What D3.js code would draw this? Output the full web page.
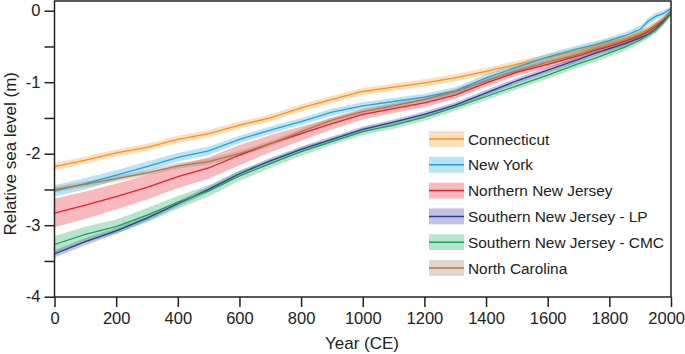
<!DOCTYPE html>
<html lang="en">
<head>
  <meta charset="UTF-8">
  <title>Relative sea level, 0–2000 CE</title>
  <script src="https://d3js.org/d3.v7.min.js"></script>
  <style>
    body { margin: 0; background: #fff; }
    svg { display: block; font-family: Arial, "Liberation Sans", sans-serif; }
  </style>
</head>
<body>
<svg width="685" height="354"></svg>
<script>
  // sample years shared by all series
  const years = [0, 100, 200, 300, 400, 500, 600, 700, 800, 900, 1000, 1100, 1200,
                 1300, 1400, 1500, 1600, 1700, 1750, 1800, 1850, 1900, 1925, 1950, 1975, 2000];

  const seriesNames = ["Connecticut", "New York", "Northern New Jersey",
                       "Southern New Jersey - LP", "Southern New Jersey - CMC", "North Carolina"];

  // relative sea level (m)
  const connecticut = [-2.18, -2.09, -1.99, -1.91, -1.80, -1.72, -1.60, -1.50, -1.36, -1.24, -1.13, -1.07, -1.01,
                       -0.94, -0.85, -0.75, -0.66, -0.56, -0.50, -0.44, -0.39, -0.31, -0.26, -0.20, -0.12, -0.02];
  const newYork     = [-2.52, -2.42, -2.30, -2.18, -2.05, -1.96, -1.80, -1.67, -1.55, -1.42, -1.33, -1.27, -1.21,
                       -1.12, -0.94, -0.79, -0.65, -0.53, -0.48, -0.42, -0.35, -0.26, -0.15, -0.08, -0.04, 0.03];
  const northernNJ  = [-2.83, -2.72, -2.60, -2.47, -2.32, -2.20, -2.02, -1.86, -1.72, -1.58, -1.45, -1.37, -1.29,
                       -1.18, -1.01, -0.86, -0.75, -0.63, -0.56, -0.50, -0.43, -0.35, -0.29, -0.22, -0.13, -0.03];
  const southernLP  = [-3.40, -3.23, -3.08, -2.90, -2.70, -2.50, -2.28, -2.10, -1.94, -1.80, -1.66, -1.56, -1.45,
                       -1.32, -1.15, -0.98, -0.83, -0.68, -0.60, -0.53, -0.46, -0.38, -0.33, -0.26, -0.15, -0.02];
  const southernCMC = [-3.27, -3.13, -3.02, -2.86, -2.68, -2.52, -2.31, -2.14, -1.97, -1.83, -1.69, -1.60, -1.49,
                       -1.35, -1.20, -1.05, -0.90, -0.74, -0.67, -0.59, -0.51, -0.41, -0.34, -0.27, -0.17, -0.04];
  const northCarolina = [-2.50, -2.43, -2.35, -2.27, -2.17, -2.11, -2.00, -1.86, -1.69, -1.53, -1.41, -1.33, -1.24,
                         -1.13, -0.98, -0.84, -0.72, -0.61, -0.54, -0.48, -0.41, -0.33, -0.27, -0.20, -0.12, -0.02];

  // half-width of the uncertainty band (m)
  const connecticutErr = [0.05, 0.05, 0.05, 0.05, 0.05, 0.05, 0.05, 0.05, 0.05, 0.05, 0.05, 0.05, 0.05,
                          0.05, 0.05, 0.05, 0.05, 0.05, 0.05, 0.05, 0.05, 0.05, 0.05, 0.05, 0.04, 0.04];
  const newYorkErr     = [0.08, 0.08, 0.07, 0.07, 0.06, 0.06, 0.05, 0.05, 0.05, 0.05, 0.05, 0.05, 0.05,
                          0.05, 0.05, 0.05, 0.05, 0.05, 0.05, 0.05, 0.05, 0.05, 0.05, 0.05, 0.04, 0.04];
  const northernNJErr  = [0.20, 0.19, 0.18, 0.17, 0.16, 0.15, 0.14, 0.12, 0.10, 0.08, 0.07, 0.06, 0.06,
                          0.05, 0.05, 0.05, 0.05, 0.05, 0.05, 0.05, 0.05, 0.04, 0.04, 0.04, 0.04, 0.04];
  const southernLPErr  = [0.05, 0.05, 0.04, 0.04, 0.04, 0.04, 0.04, 0.04, 0.04, 0.04, 0.04, 0.04, 0.04,
                          0.04, 0.04, 0.04, 0.04, 0.04, 0.04, 0.04, 0.04, 0.04, 0.04, 0.04, 0.04, 0.04];
  const southernCMCErr = [0.12, 0.11, 0.10, 0.10, 0.09, 0.08, 0.07, 0.06, 0.06, 0.05, 0.05, 0.05, 0.05,
                          0.05, 0.05, 0.05, 0.05, 0.05, 0.05, 0.05, 0.05, 0.05, 0.05, 0.05, 0.04, 0.04];
  const northCarolinaErr = [0.04, 0.04, 0.04, 0.04, 0.04, 0.04, 0.04, 0.04, 0.04, 0.04, 0.04, 0.04, 0.04,
                            0.04, 0.04, 0.04, 0.04, 0.04, 0.04, 0.04, 0.04, 0.04, 0.04, 0.04, 0.04, 0.04];

  const xTicks = [0, 200, 400, 600, 800, 1000, 1200, 1400, 1600, 1800, 2000];
  const yTicks = [0, -1, -2, -3, -4];
  const yMinorTicks = [-0.5, -1.5, -2.5, -3.5];

  const lineColors = ["#f7941e", "#1fa3dc", "#ec1c2b", "#2e3a97", "#14a558", "#a67c52"];

  const values = [connecticut, newYork, northernNJ, southernLP, southernCMC, northCarolina];
  const errors = [connecticutErr, newYorkErr, northernNJErr, southernLPErr, southernCMCErr, northCarolinaErr];

  const series = seriesNames.map((name, i) => ({
    name,
    color: lineColors[i],
    points: years.map((yr, j) => ({ year: yr, v: values[i][j], e: errors[i][j] }))
  }));

  const svg = d3.select("svg");
  const plotLeft = 54.5, plotRight = 671, plotTop = 1, plotBottom = 297;

  const x = d3.scaleLinear().domain([0, 2000]).range([plotLeft, plotRight]);
  const y = d3.scaleLinear().domain([-4, 0]).range([296.7, 10.7]);

  const area = d3.area()
    .x(d => x(d.year))
    .y0(d => y(d.v - d.e))
    .y1(d => y(d.v + d.e));

  const line = d3.line()
    .x(d => x(d.year))
    .y(d => y(d.v));

  svg.append("clipPath").attr("id", "plot-clip")
    .append("rect").attr("x", plotLeft).attr("y", plotTop)
    .attr("width", plotRight - plotLeft).attr("height", plotBottom - plotTop);

  const plot = svg.append("g").attr("clip-path", "url(#plot-clip)");

  // bands first, then the lines on top
  plot.selectAll(".band").data(series).enter()
    .append("path")
    .attr("class", "band")
    .attr("d", d => area(d.points))
    .attr("fill", d => d.color)
    .attr("fill-opacity", 0.3);

  plot.selectAll(".line").data(series).enter()
    .append("path")
    .attr("class", "line")
    .attr("d", d => line(d.points))
    .attr("fill", "none")
    .attr("stroke", d => d.color)
    .attr("stroke-width", 1.3);

  // frame
  svg.append("rect")
    .attr("x", plotLeft).attr("y", plotTop)
    .attr("width", plotRight - plotLeft).attr("height", plotBottom - plotTop)
    .attr("fill", "none")
    .attr("stroke", "#222")
    .attr("stroke-width", 1.5);

  // axes
  const xAxis = svg.append("g")
    .attr("transform", `translate(0,${plotBottom})`)
    .call(d3.axisBottom(x).tickValues(xTicks).tickSize(10).tickPadding(5).tickFormat(d3.format("d")));

  const yAxis = svg.append("g")
    .attr("transform", `translate(${plotLeft},0)`)
    .call(d3.axisLeft(y).tickValues(yTicks.concat(yMinorTicks)).tickSize(10).tickPadding(4)
      .tickFormat(d => yTicks.includes(d) ? String(d) : ""));

  [xAxis, yAxis].forEach(g => {
    g.select(".domain").remove();
    g.selectAll(".tick line").attr("stroke", "#222").attr("stroke-width", 1.5);
    g.selectAll(".tick text").attr("fill", "#222").style("font-size", "16.5px");
  });
  // last year label sits against the right edge
  xAxis.selectAll(".tick text").filter(d => d === 2000)
    .attr("text-anchor", "end").attr("x", 13.5);

  svg.append("text")
    .attr("x", 362)
    .attr("y", 349)
    .attr("text-anchor", "middle")
    .attr("fill", "#222")
    .style("font-size", "17px")
    .text("Year (CE)");

  svg.append("text")
    .attr("transform", `translate(16,${y(-2)}) rotate(-90)`)
    .attr("text-anchor", "middle")
    .attr("fill", "#222")
    .style("font-size", "17px")
    .text("Relative sea level (m)");

  // legend
  const legend = svg.append("g").attr("transform", "translate(429,139)");
  series.forEach((s, i) => {
    const row = legend.append("g").attr("transform", `translate(0,${i * 25.8})`);
    row.append("rect")
      .attr("x", 0).attr("y", -8)
      .attr("width", 35).attr("height", 16)
      .attr("fill", s.color).attr("fill-opacity", 0.3);
    row.append("line")
      .attr("x1", 0).attr("x2", 35)
      .attr("stroke", s.color).attr("stroke-width", 1.5);
    row.append("text")
      .attr("x", 39).attr("y", 5.5)
      .attr("fill", "#222")
      .style("font-size", "15.4px")
      .text(s.name);
  });
</script>
</body>
</html>
